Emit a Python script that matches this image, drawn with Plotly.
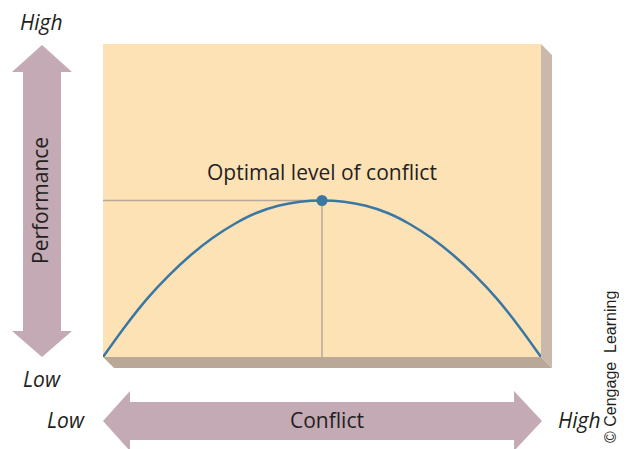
import plotly.graph_objects as go

# Conflict level vs. performance (conceptual inverted-U curve)
conflict = [0, 0.5, 1, 1.5, 2, 2.5, 3, 3.5, 4, 4.5, 5, 5.5, 6, 6.5, 7, 7.5, 8, 8.5, 9, 9.5, 10]
performance = [0, 0.97, 1.85, 2.6, 3.25, 3.8, 4.25, 4.6, 4.83, 4.96, 5.0,
               4.96, 4.83, 4.6, 4.25, 3.8, 3.25, 2.6, 1.85, 0.97, 0]
optimal_x = [5]
optimal_y = [5]
optimal_label = "Optimal level of conflict"

# the page body adds an 8px margin, so the figure is made 8px smaller and
# every reference pixel position below is shifted by that amount
OFF = 8
W, H = 627 - OFF, 449 - OFF
L, R, T, B = 103, 541, 44, 357   # plot area in reference pixels

FILL = "#fde2b6"
ARROW = "#c4aab4"
LINE = "#3b77a3"
GUIDE = "#b7a898"
TEXT = "#231f20"
FONT = "Open Sans"
SIZE = 21


def px(x):
    return (x - L) / (R - L)


def py(y):
    return (B - y) / (B - T)


def path(points):
    return "M " + " L ".join(f"{px(x):.5f},{py(y):.5f}" for x, y in points) + " Z"


fig = go.Figure()

# guide lines to the optimum
fig.add_trace(go.Scatter(x=[0, optimal_x[0]], y=[optimal_y[0], optimal_y[0]], mode="lines",
                         line=dict(color=GUIDE, width=1.5), hoverinfo="skip"))
fig.add_trace(go.Scatter(x=[optimal_x[0], optimal_x[0]], y=[0, optimal_y[0]], mode="lines",
                         line=dict(color=GUIDE, width=1.5), hoverinfo="skip"))

fig.add_trace(go.Scatter(x=conflict, y=performance, mode="lines",
                         line=dict(color=LINE, width=2.5, shape="spline")))
fig.add_trace(go.Scatter(x=optimal_x, y=optimal_y, mode="markers",
                         marker=dict(color=LINE, size=11)))

shapes = [
    # right shadow
    dict(type="path", xref="paper", yref="paper", layer="below", line_width=0,
         fillcolor="#c9b9ab",
         path=path([(R, T), (R + 11, T + 11), (R + 11, B + 11), (R, B)])),
    # bottom shadow
    dict(type="path", xref="paper", yref="paper", layer="below", line_width=0,
         fillcolor="#b9a798",
         path=path([(L, B), (R, B), (R + 11, B + 11), (L + 11, B + 11)])),
    # vertical double arrow
    dict(type="path", xref="paper", yref="paper", line_width=0, fillcolor=ARROW,
         path=path([(42, 45), (72, 72), (61, 72), (61, 331), (72, 331), (42, 357),
                    (12, 331), (23, 331), (23, 72), (12, 72)])),
    # horizontal double arrow
    dict(type="path", xref="paper", yref="paper", line_width=0, fillcolor=ARROW,
         path=path([(103, 421), (130, 391), (130, 402), (514, 402), (514, 391), (542, 421),
                    (514, 451), (514, 440), (130, 440), (130, 451)])),
]

annotations = [
    dict(text=optimal_label, x=optimal_x[0], y=optimal_y[0], xref="x", yref="y",
         yshift=29, showarrow=False, font=dict(size=SIZE, color=TEXT, family=FONT)),
    dict(text="Performance", x=px(40), y=py(201), textangle=-90,
         font=dict(size=SIZE, color=TEXT, family=FONT)),
    dict(text="Conflict", x=px(327), y=py(420), font=dict(size=SIZE, color=TEXT, family=FONT)),
    dict(text="<i>High</i>", x=px(41), y=py(22), font=dict(size=SIZE, color=TEXT, family=FONT)),
    dict(text="<i>Low</i>", x=px(42), y=py(379), font=dict(size=SIZE, color=TEXT, family=FONT)),
    dict(text="<i>Low</i>", x=px(66), y=py(420), font=dict(size=SIZE, color=TEXT, family=FONT)),
    dict(text="<i>High</i>", x=px(579), y=py(420), font=dict(size=SIZE, color=TEXT, family=FONT)),
    dict(text="© Cengage  Learning", x=px(610), y=py(367), textangle=-90,
         font=dict(size=16, color=TEXT, family="Liberation Sans Narrow, Liberation Sans")),
]
for a in annotations:
    a.setdefault("xref", "paper")
    a.setdefault("yref", "paper")
    a.setdefault("showarrow", False)
    a.setdefault("xanchor", "center")
    a.setdefault("yanchor", "middle")
    a.setdefault("borderpad", 0)

fig.update_layout(
    width=W, height=H,
    margin=dict(l=L - OFF, r=W - (R - OFF), t=T - OFF, b=H - (B - OFF), pad=0),
    paper_bgcolor="white",
    plot_bgcolor=FILL,
    showlegend=False,
    xaxis=dict(range=[0, 10], visible=False, fixedrange=True),
    yaxis=dict(range=[0, 10], visible=False, fixedrange=True),
    shapes=shapes,
    annotations=annotations,
)

fig.write_html("out.html")
